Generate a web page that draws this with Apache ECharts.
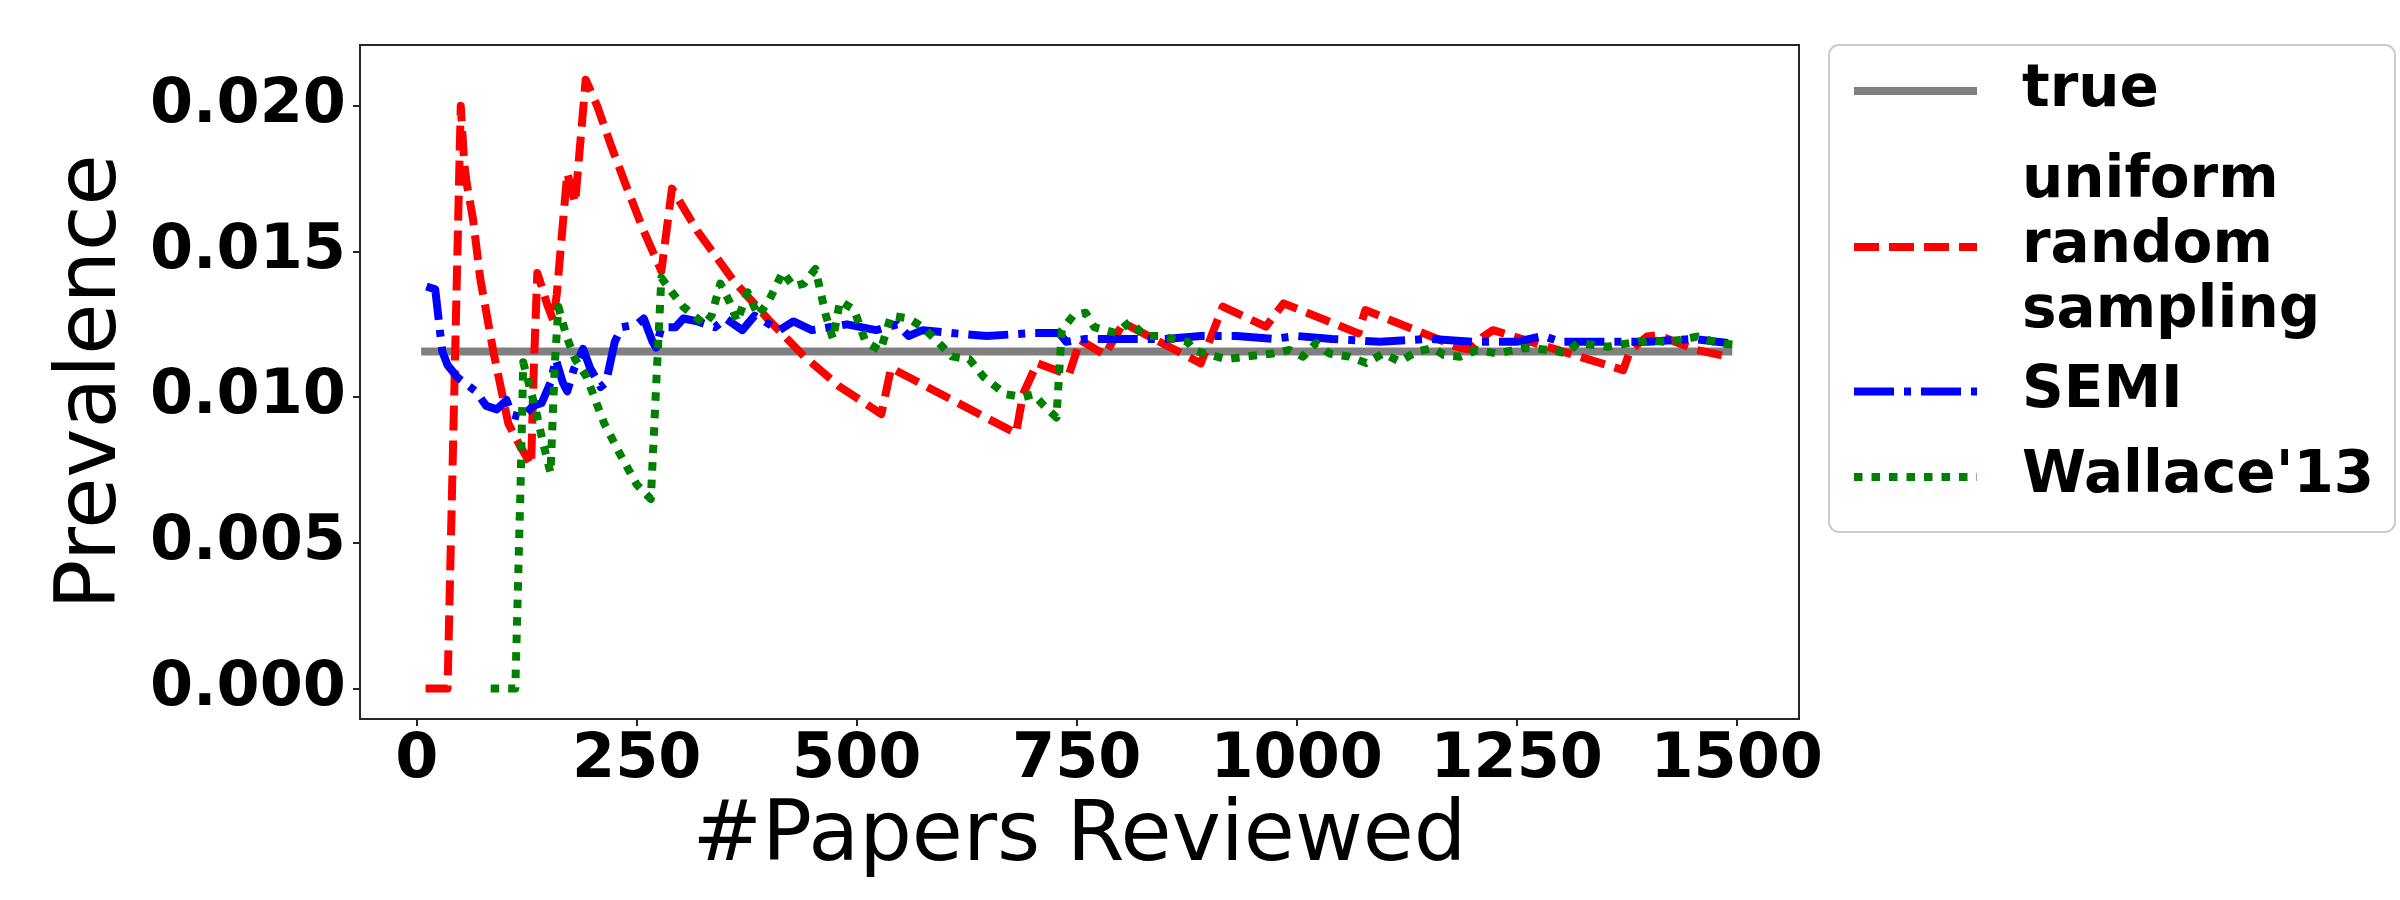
<!DOCTYPE html>
<html>
<head>
<meta charset="utf-8">
<script src="https://cdn.jsdelivr.net/npm/echarts@6/dist/echarts.min.js"></script>
<style>html,body{margin:0;padding:0;background:#fff}#c{width:2400px;height:900px}</style>
</head>
<body>
<div id="c"></div>
<script>
// ---- data ----
var xTicks = [0, 250, 500, 750, 1000, 1250, 1500];
var yTicks = [0, 0.005, 0.010, 0.015, 0.020];
var seriesNames = ['true', 'uniform random sampling', 'SEMI', "Wallace'13"];

var trueValue = 0.01157;
var trueX = [5, 1495];

var uniformX = [10, 35, 50, 54, 57, 64, 72, 87, 104, 116, 130, 133, 137, 142, 148, 155, 159, 171, 180, 192, 205, 221, 238, 258, 278, 290, 319, 360, 400, 440, 481, 528, 539, 681, 689, 705, 741, 754, 782, 803, 891, 916, 965, 985, 1070, 1078, 1106, 1182, 1197, 1212, 1223, 1371, 1379, 1398, 1410, 1454, 1490];
var uniformY = [0, 0, 0.0200, 0.0180, 0.0173, 0.0161, 0.0141, 0.01157, 0.0091, 0.0084, 0.00767, 0.0110, 0.01426, 0.0138, 0.0132, 0.01265, 0.0135, 0.01769, 0.01667, 0.0209, 0.0200, 0.01862, 0.01725, 0.0157, 0.01433, 0.01716, 0.0157, 0.0140, 0.01265, 0.01141, 0.01035, 0.00942, 0.0110, 0.00876, 0.0101, 0.01117, 0.01076, 0.01196, 0.01145, 0.01255, 0.01116, 0.01311, 0.01242, 0.01322, 0.01219, 0.01299, 0.01265, 0.01173, 0.01162, 0.01208, 0.0123, 0.01093, 0.0116, 0.01208, 0.01213, 0.01162, 0.01139];

var semiX = [11, 21, 29, 35, 47, 67, 79, 91, 102, 108, 120, 132, 142, 152, 158, 166, 171, 179, 189, 197, 209, 215, 225, 233, 250, 258, 268, 272, 278, 294, 303, 319, 339, 351, 370, 384, 412, 428, 449, 489, 522, 546, 559, 575, 608, 648, 700, 730, 738, 760, 790, 851, 891, 932, 973, 1000, 1040, 1095, 1150, 1200, 1250, 1280, 1300, 1400, 1450, 1490];
var semiY = [0.0138, 0.0137, 0.01157, 0.0111, 0.01066, 0.0102, 0.0097, 0.00958, 0.0099, 0.0094, 0.0093, 0.0097, 0.0098, 0.0105, 0.0113, 0.0105, 0.0102, 0.0110, 0.01166, 0.0110, 0.01035, 0.0105, 0.0119, 0.0124, 0.0125, 0.0127, 0.0119, 0.0117, 0.0124, 0.0124, 0.0127, 0.0126, 0.0124, 0.0127, 0.0123, 0.0128, 0.0123, 0.0126, 0.0123, 0.0125, 0.0123, 0.0125, 0.0121, 0.0123, 0.0122, 0.0121, 0.0122, 0.0122, 0.0119, 0.0120, 0.0120, 0.0120, 0.0121, 0.0121, 0.0120, 0.0121, 0.0120, 0.0119, 0.0120, 0.0119, 0.0119, 0.0121, 0.0119, 0.0119, 0.0120, 0.01186];

var wallaceX = [84, 112, 118, 121, 127, 135, 143, 152, 157, 161, 170, 180, 193, 213, 230, 250, 266, 273, 278, 290, 303, 315, 327, 335, 345, 355, 364, 376, 388, 400, 416, 428, 440, 453, 465, 473, 481, 497, 510, 527, 539, 559, 575, 592, 608, 628, 644, 669, 689, 701, 713, 727, 733, 746, 760, 770, 795, 811, 827, 843, 859, 876, 884, 896, 920, 945, 973, 992, 1007, 1022, 1037, 1060, 1079, 1098, 1117, 1136, 1155, 1167, 1186, 1205, 1228, 1258, 1288, 1307, 1319, 1353, 1379, 1402, 1417, 1436, 1455, 1478, 1500];
var wallaceY = [0, 0, 0.0070, 0.0112, 0.0105, 0.0096, 0.0085, 0.0074, 0.0112, 0.0131, 0.0121, 0.0113, 0.0107, 0.0091, 0.0081, 0.0070, 0.0065, 0.0110, 0.0141, 0.0136, 0.0131, 0.0128, 0.0125, 0.0128, 0.0139, 0.0133, 0.0126, 0.0136, 0.0128, 0.0133, 0.0143, 0.0138, 0.0139, 0.0144, 0.0128, 0.0120, 0.0133, 0.0130, 0.0119, 0.0116, 0.0128, 0.0127, 0.0124, 0.0119, 0.0114, 0.0113, 0.0107, 0.0101, 0.0100, 0.0101, 0.0097, 0.0093, 0.0123, 0.0128, 0.0129, 0.0124, 0.0122, 0.0126, 0.0121, 0.0121, 0.0120, 0.0119, 0.0116, 0.0115, 0.0113, 0.0114, 0.0115, 0.01162, 0.01139, 0.01186, 0.0115, 0.01139, 0.01117, 0.0115, 0.01122, 0.01156, 0.01169, 0.01145, 0.01139, 0.01162, 0.0115, 0.01169, 0.01162, 0.0115, 0.01186, 0.01173, 0.01186, 0.01196, 0.0119, 0.01196, 0.01208, 0.01186, 0.01179];

function pairs(xs, ys) { return xs.map(function (x, i) { return [x, ys[i]]; }); }

var FONT = 'DejaVu Sans';
var styles = {
  'true': { color: '#808080', type: 'solid' },
  'uniform random sampling': { color: '#ff0000', type: [25, 10] },
  'SEMI': { color: '#0000ff', type: [40, 10, 7, 10] },
  "Wallace'13": { color: '#008000', type: [8.5, 9] }
};

var datas = [
  trueX.map(function (x) { return [x, trueValue]; }),
  pairs(uniformX, uniformY),
  pairs(semiX, semiY),
  pairs(wallaceX, wallaceY)
];

var series = seriesNames.map(function (n, i) {
  return {
    name: n, type: 'line', data: datas[i], symbol: 'none', showSymbol: false,
    smooth: false, animation: false,
    itemStyle: { color: styles[n].color },
    lineStyle: { color: styles[n].color, width: 8, type: styles[n].type, cap: 'butt', join: 'round' }
  };
});

var legendCenters = [91, 247, 391.5, 477];
var legendLines = [1, 3, 1, 1];
var LH = 65;
var legends = seriesNames.map(function (n, i) {
  return {
    data: [n], left: 1850, top: legendCenters[i] - legendLines[i] * LH / 2,
    orient: 'vertical', padding: 0, itemGap: 0, itemWidth: 123, itemHeight: 8,
    selectedMode: false,
    formatter: function (name) { return name.split(' ').join('\n'); },
    textStyle: { fontSize: 58, fontWeight: 'bold', fontFamily: FONT, color: '#000', lineHeight: LH, padding: [0, 0, 0, 40] },
    itemStyle: { opacity: 0 },
    lineStyle: { color: styles[n].color, width: 8, type: styles[n].type, cap: 'butt' }
  };
});

var axisLineStyle = { color: '#262626', width: 2 };
var option = {
  animation: false,
  backgroundColor: '#fff',
  grid: { left: 360, right: 601, top: 45, bottom: 181, show: true, borderColor: '#262626', borderWidth: 2, containLabel: false },
  xAxis: {
    type: 'value', min: -64.5, max: 1570.8,
    splitLine: { show: false },
    axisLine: { show: true, onZero: false, lineStyle: axisLineStyle },
    axisTick: { show: true, length: 7, customValues: xTicks, lineStyle: axisLineStyle },
    axisLabel: { customValues: xTicks, fontSize: 62, fontWeight: 'bold', fontFamily: FONT, color: '#000', margin: 11,
      formatter: function (v) { return String(Math.round(v)); } },
    name: '#Papers Reviewed', nameLocation: 'middle', nameGap: 77,
    nameTextStyle: { fontSize: 83, fontFamily: FONT, color: '#000' }
  },
  yAxis: {
    type: 'value', min: -0.00105, max: 0.02209,
    splitLine: { show: false },
    axisLine: { show: true, onZero: false, lineStyle: axisLineStyle },
    axisTick: { show: true, length: 7, customValues: yTicks, lineStyle: axisLineStyle },
    axisLabel: { customValues: yTicks, fontSize: 62, fontWeight: 'bold', fontFamily: FONT, color: '#000', margin: 14,
      formatter: function (v) { return Number(v).toFixed(3); } },
    name: 'Prevalence', nameLocation: 'middle', nameGap: 225,
    nameTextStyle: { fontSize: 83, fontFamily: FONT, color: '#000' }
  },
  legend: legends,
  graphic: [{
    type: 'rect', z: -1, shape: { x: 1829, y: 45, width: 566, height: 487, r: 10 },
    style: { fill: '#fff', stroke: '#cccccc', lineWidth: 2 }
  }],
  series: series
};

var chart = echarts.init(document.getElementById('c'), null, { renderer: 'canvas' });
chart.setOption(option);
</script>
</body>
</html>
